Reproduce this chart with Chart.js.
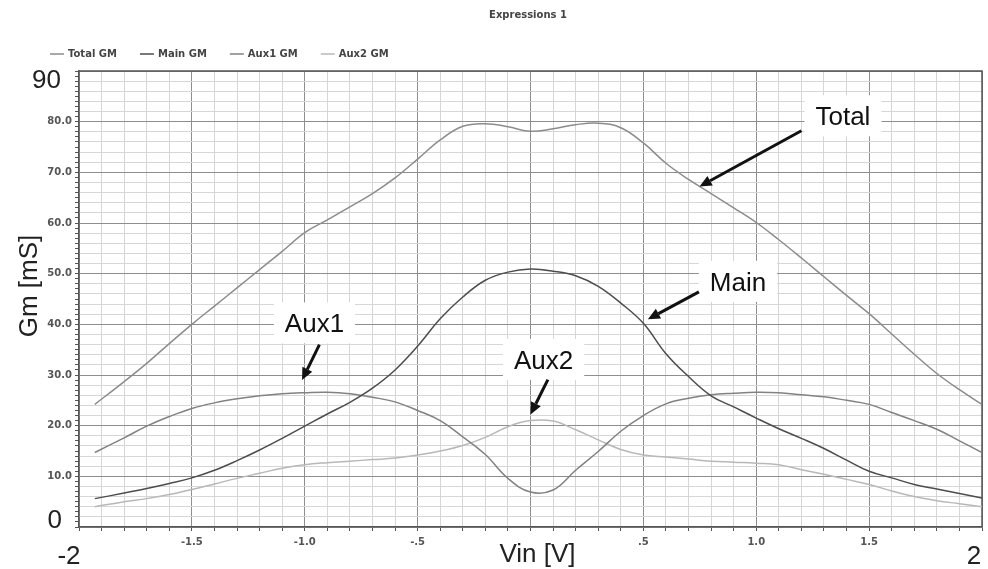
<!DOCTYPE html>
<html>
<head>
<meta charset="utf-8">
<title>Expressions 1</title>
<script src="https://cdn.jsdelivr.net/npm/chart.js@4.4.0/dist/chart.umd.min.js"></script>
<style>
  html, body { margin: 0; padding: 0; background: #ffffff; }
  #wrap { width: 988px; height: 569px; }
</style>
</head>
<body>
<div id="wrap"><canvas id="gm" width="988" height="569"></canvas></div>
<script>
// Input voltage sweep [V]
const vin = [-1.93, -1.8, -1.7, -1.6, -1.5, -1.4, -1.3, -1.2, -1.1, -1.0,
             -0.9, -0.8, -0.7, -0.6, -0.5, -0.4, -0.3, -0.2, -0.1, 0.0,
              0.1, 0.2, 0.3, 0.4, 0.5, 0.6, 0.7, 0.8, 0.9, 1.0,
              1.1, 1.2, 1.3, 1.4, 1.5, 1.6, 1.7, 1.8, 1.9, 2.0];

// Transconductance of each stage [mS]
const totalGm = [24.2, 28.7, 32.3, 36.2, 40.0, 43.6, 47.2, 50.8, 54.4, 58.1,
                 60.6, 63.2, 65.8, 68.9, 72.6, 76.4, 79.1, 79.6, 79.0, 78.1,
                 78.6, 79.4, 79.7, 78.8, 75.8, 71.8, 68.6, 65.8, 63.0, 60.1,
                 56.7, 53.1, 49.4, 45.7, 42.1, 38.1, 34.1, 30.3, 27.1, 24.2];
const mainGm  = [5.6, 6.7, 7.6, 8.6, 9.7, 11.2, 13.1, 15.2, 17.5, 19.9,
                 22.3, 24.6, 27.4, 31.0, 35.7, 41.1, 45.4, 48.7, 50.3, 50.9,
                 50.5, 49.6, 47.5, 44.2, 40.2, 34.2, 29.7, 25.9, 23.7, 21.5,
                 19.4, 17.5, 15.5, 13.2, 11.0, 9.7, 8.4, 7.5, 6.6, 5.7];
const aux1Gm  = [14.7, 17.6, 19.9, 21.8, 23.4, 24.5, 25.3, 25.9, 26.3, 26.5,
                 26.6, 26.3, 25.6, 24.7, 23.0, 21.0, 17.8, 14.3, 9.6, 6.9,
                 7.3, 11.2, 14.9, 18.9, 22.0, 24.3, 25.4, 26.1, 26.4, 26.6,
                 26.5, 26.1, 25.7, 25.0, 24.2, 22.6, 21.0, 19.3, 17.0, 14.7];
const aux2Gm  = [4.0, 5.0, 5.6, 6.4, 7.4, 8.5, 9.6, 10.6, 11.6, 12.3,
                 12.7, 13.0, 13.3, 13.6, 14.2, 15.0, 16.1, 17.7, 19.8, 21.0,
                 20.9, 19.2, 17.2, 15.3, 14.2, 13.8, 13.4, 13.0, 12.8, 12.6,
                 12.3, 11.3, 10.4, 9.4, 8.4, 7.1, 6.0, 5.2, 4.6, 4.0];

const seriesNames = ['Total GM', 'Main GM', 'Aux1 GM', 'Aux2 GM'];

// Axis tick labels
const xTickValues = [-1.5, -1.0, -0.5, 0.5, 1.0, 1.5];
const xTickLabels = ['-1.5', '-1.0', '-.5', '.5', '1.0', '1.5'];
const yTickValues = [10, 20, 30, 40, 50, 60, 70, 80];
const yTickLabels = ['10.0', '20.0', '30.0', '40.0', '50.0', '60.0', '70.0', '80.0'];
const xEndLabels = ['-2', '2'];
const yEndLabels = ['0', '90'];

const chartTitle = 'Expressions 1';
const xTitle = 'Vin [V]';
const yTitle = 'Gm [mS]';

// Callouts: label anchor (centre x, baseline y) and arrow tail/tip, in data units
const callouts = [
  { text: 'Total', at: [1.384, 79.3],  tail: [1.2, 78.2],    tip: [0.749, 67.2] },
  { text: 'Main',  at: [0.919, 46.6],  tail: [0.746, 46.4],  tip: [0.52, 41.0] },
  { text: 'Aux1',  at: [-0.957, 38.4], tail: [-0.935, 36.0], tip: [-1.012, 29.0] },
  { text: 'Aux2',  at: [0.058, 31.2],  tail: [0.077, 29.1],  tip: [0.0, 22.2] }
];

const lineColors = ['#8c8c8c', '#4d4d4d', '#828282', '#b8b8b8'];
const seriesData = [totalGm, mainGm, aux1Gm, aux2Gm];

const datasets = seriesData.map((vals, i) => ({
  label: seriesNames[i],
  data: vin.map((v, j) => ({ x: v, y: vals[j] })),
  borderColor: lineColors[i],
  borderWidth: 1.5,
  pointRadius: 0,
  fill: false,
  tension: 0.4
}));

const BIG_FONT = '26px "Liberation Sans", Arial, sans-serif';
const SMALL_BOLD = 'bold 10px "DejaVu Sans", sans-serif';

function findLabel(values, labels, v) {
  for (let i = 0; i < values.length; i++) {
    if (Math.abs(values[i] - v) < 1e-6) return labels[i];
  }
  return '';
}

const decorations = {
  id: 'decorations',
  beforeDatasetsDraw(chart) {
    const { ctx, chartArea: a, scales: { x, y } } = chart;
    ctx.save();
    // top and right edges of the plot frame
    ctx.strokeStyle = '#555555';
    ctx.lineWidth = 1.5;
    ctx.beginPath();
    ctx.moveTo(a.left, a.top);
    ctx.lineTo(a.right, a.top);
    ctx.lineTo(a.right, a.bottom);
    ctx.stroke();
    // white plates under the callout labels
    ctx.font = BIG_FONT;
    ctx.fillStyle = '#ffffff';
    callouts.forEach(c => {
      const cx = x.getPixelForValue(c.at[0]);
      const by = y.getPixelForValue(c.at[1]);
      const w = ctx.measureText(c.text).width + 22;
      ctx.fillRect(cx - w / 2, by - 30, w, 41);
    });
    ctx.restore();
  },
  afterDatasetsDraw(chart) {
    const { ctx, scales: { x, y } } = chart;
    ctx.save();
    ctx.font = BIG_FONT;
    ctx.fillStyle = '#111111';
    ctx.textAlign = 'center';
    ctx.textBaseline = 'alphabetic';
    callouts.forEach(c => {
      ctx.fillText(c.text, x.getPixelForValue(c.at[0]), y.getPixelForValue(c.at[1]));
      // arrow
      const x0 = x.getPixelForValue(c.tail[0]), y0 = y.getPixelForValue(c.tail[1]);
      const x1 = x.getPixelForValue(c.tip[0]),  y1 = y.getPixelForValue(c.tip[1]);
      const ang = Math.atan2(y1 - y0, x1 - x0);
      const head = 12, half = 5.5;
      const bx = x1 - head * Math.cos(ang), byy = y1 - head * Math.sin(ang);
      ctx.strokeStyle = '#111111';
      ctx.lineWidth = 3;
      ctx.lineCap = 'butt';
      ctx.beginPath();
      ctx.moveTo(x0, y0);
      ctx.lineTo(bx, byy);
      ctx.stroke();
      ctx.beginPath();
      ctx.moveTo(x1, y1);
      ctx.lineTo(bx + half * Math.sin(ang), byy - half * Math.cos(ang));
      ctx.lineTo(bx - half * Math.sin(ang), byy + half * Math.cos(ang));
      ctx.closePath();
      ctx.fill();
    });
    ctx.restore();
  },
  afterDraw(chart) {
    const { ctx, chartArea: a, scales: { x, y } } = chart;
    ctx.save();
    // chart title
    ctx.font = SMALL_BOLD;
    ctx.fillStyle = '#444444';
    ctx.textAlign = 'center';
    ctx.textBaseline = 'middle';
    ctx.fillText(chartTitle, 528, 15);

    // legend row
    let lx = 50;
    const ly = 54;
    seriesNames.forEach((name, i) => {
      ctx.strokeStyle = lineColors[i];
      ctx.lineWidth = 1.5;
      ctx.beginPath();
      ctx.moveTo(lx, ly);
      ctx.lineTo(lx + 14, ly);
      ctx.stroke();
      ctx.fillStyle = '#444444';
      ctx.textAlign = 'left';
      ctx.fillText(name, lx + 18, ly);
      lx += 18 + ctx.measureText(name).width + 23;
    });

    // large end values of both axes
    ctx.font = BIG_FONT;
    ctx.fillStyle = '#222222';
    ctx.textBaseline = 'alphabetic';
    ctx.textAlign = 'right';
    ctx.fillText(yEndLabels[1], a.left - 18, y.getPixelForValue(90) + 17);
    ctx.fillText(yEndLabels[0], a.left - 17, y.getPixelForValue(0) + 1);
    ctx.textAlign = 'center';
    ctx.fillText(xEndLabels[0], x.getPixelForValue(-2) - 10, 564);
    ctx.fillText(xEndLabels[1], x.getPixelForValue(2) - 8, 564);

    // axis titles
    ctx.fillText(xTitle, (a.left + a.right) / 2 + 7, 562);
    ctx.translate(37, (a.top + a.bottom) / 2 - 13);
    ctx.rotate(-Math.PI / 2);
    ctx.fillText(yTitle, 0, 0);
    ctx.restore();
  }
};

new Chart(document.getElementById('gm'), {
  type: 'line',
  data: { datasets },
  options: {
    responsive: false,
    animation: false,
    devicePixelRatio: 1,
    layout: { padding: { top: 71, right: 6, left: 0, bottom: 0 } },
    plugins: {
      legend: { display: false },
      title: { display: false },
      tooltip: { enabled: false }
    },
    scales: {
      x: {
        type: 'linear',
        min: -2,
        max: 2,
        afterFit: s => { s.height = 42; },
        border: { color: '#555555', width: 1.5 },
        grid: {
          lineWidth: 1,
          color: ctx => (Math.round(ctx.tick.value * 10) % 5 === 0) ? '#8e8e8e' : '#d6d6d6',
          tickColor: '#555555',
          tickLength: 4
        },
        ticks: {
          stepSize: 0.1,
          autoSkip: false,
          maxRotation: 0,
          minRotation: 0,
          padding: 5,
          color: '#555555',
          font: { family: '"DejaVu Sans", sans-serif', size: 10, weight: 'bold' },
          callback: v => findLabel(xTickValues, xTickLabels, v)
        }
      },
      y: {
        type: 'linear',
        min: 0,
        max: 90,
        afterFit: s => { s.width = 79; },
        border: { color: '#555555', width: 1.5 },
        grid: {
          lineWidth: 1,
          color: ctx => {
            const v = Math.round(ctx.tick.value);
            if (v % 10 === 0) return '#8e8e8e';
            if (v % 2 === 0) return '#d6d6d6';
            return 'rgba(0,0,0,0)';
          },
          tickColor: '#555555',
          tickLength: 4
        },
        ticks: {
          stepSize: 1,
          autoSkip: false,
          padding: 3,
          color: '#555555',
          font: { family: '"DejaVu Sans", sans-serif', size: 10, weight: 'bold' },
          callback: v => findLabel(yTickValues, yTickLabels, v)
        }
      }
    }
  },
  plugins: [decorations]
});
</script>
</body>
</html>
